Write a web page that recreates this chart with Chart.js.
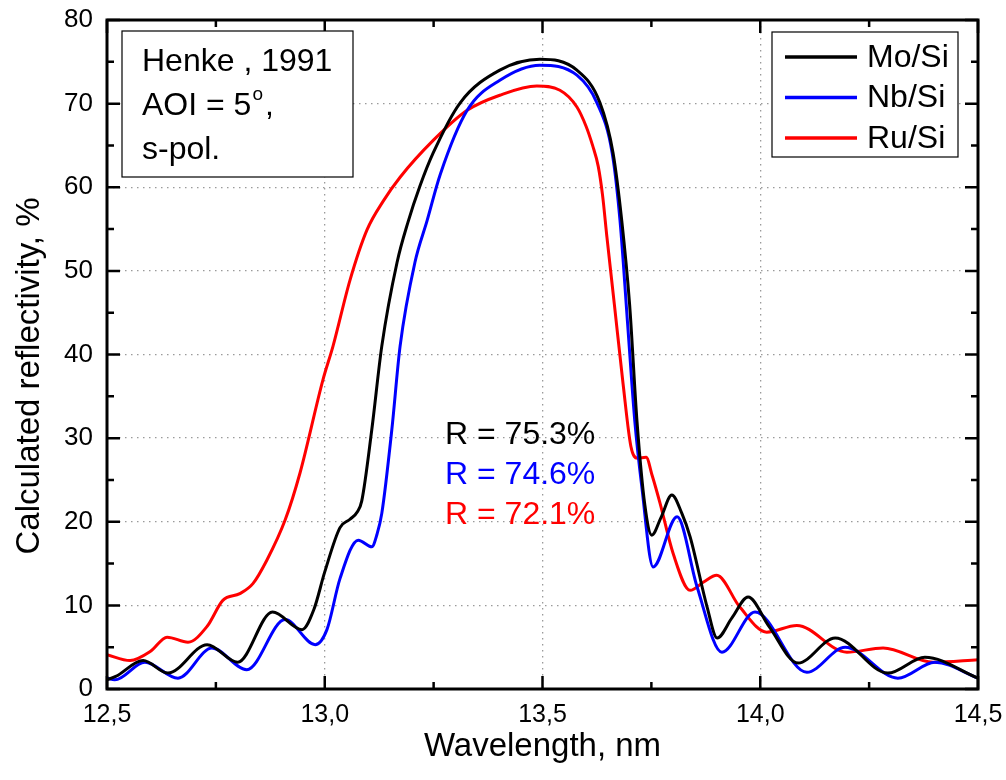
<!DOCTYPE html>
<html>
<head>
<meta charset="utf-8">
<script src="https://cdn.jsdelivr.net/npm/chart.js@4.4.0/dist/chart.umd.min.js"></script>
<style>
  body { margin: 0; background: #fff; }
  #c { display: block; }
</style>
</head>
<body>
<canvas id="c" width="1006" height="780"></canvas>
<script>
// Mo/Si, Nb/Si, Ru/Si reflectivity curves (wavelength nm, reflectivity %)
const moX = [12.5, 12.52, 12.583, 12.64, 12.73, 12.80, 12.88, 12.948, 12.975, 13.0, 13.035, 13.058, 13.075, 13.085, 13.108, 13.131, 13.166, 13.191, 13.219, 13.249, 13.311, 13.402, 13.494, 13.579, 13.632, 13.662, 13.682, 13.70, 13.717, 13.735, 13.751, 13.772, 13.797, 13.82, 13.839, 13.878, 13.901, 13.935, 13.972, 14.02, 14.087, 14.172, 14.293, 14.378, 14.5];
const moY = [1.1, 1.5, 3.4, 1.9, 5.3, 3.2, 9.2, 7.1, 9.5, 14.0, 19.3, 20.3, 21.2, 22.5, 31, 41, 51, 55.8, 60.2, 64.1, 70.1, 74.0, 75.3, 74.0, 70.1, 64.1, 56, 46, 32, 22, 18.4, 20.5, 23.2, 21, 18.2, 9.8, 6.1, 8.5, 11.0, 7.5, 3.1, 6.1, 1.9, 3.8, 1.3];

const nbX = [12.5, 12.518, 12.587, 12.663, 12.741, 12.821, 12.909, 12.978, 13.005, 13.035, 13.077, 13.108, 13.12, 13.131, 13.154, 13.173, 13.207, 13.235, 13.265, 13.327, 13.402, 13.494, 13.579, 13.625, 13.66, 13.678, 13.695, 13.712, 13.728, 13.754, 13.809, 13.855, 13.912, 13.988, 14.107, 14.195, 14.316, 14.401, 14.5];
const nbY = [1.3, 1.1, 3.2, 1.3, 4.9, 2.3, 8.3, 5.3, 7.1, 13.2, 17.8, 17.0, 18.5, 21, 31, 41, 51, 56, 61.5, 69.2, 72.8, 74.6, 73.4, 70.1, 64.1, 56, 44, 32, 24.2, 14.6, 20.6, 12.2, 4.4, 9.2, 2.0, 5.0, 1.3, 3.2, 1.3];

const ruX = [12.5, 12.553, 12.60, 12.638, 12.686, 12.73, 12.766, 12.805, 12.835, 12.867, 12.909, 12.943, 12.996, 13.019, 13.058, 13.097, 13.135, 13.173, 13.249, 13.327, 13.402, 13.487, 13.540, 13.579, 13.60, 13.615, 13.628, 13.638, 13.648, 13.665, 13.685, 13.703, 13.718, 13.738, 13.752, 13.77, 13.80, 13.839, 13.87, 13.90, 13.953, 14.015, 14.084, 14.199, 14.282, 14.397, 14.5];
const ruY = [4.1, 3.4, 4.5, 6.2, 5.6, 7.5, 10.6, 11.4, 12.6, 15.4, 20.2, 25.8, 37, 41, 48.9, 54.9, 58.4, 61.2, 65.6, 69.2, 71.0, 72.1, 71.6, 69.6, 67.3, 65, 62.5, 59, 54, 46, 36.5, 29, 27.6, 27.7, 25.5, 22.2, 16.2, 11.8, 12.8, 13.6, 9.8, 6.8, 7.6, 4.4, 4.9, 3.2, 3.5];

const seriesNames = ['Mo/Si', 'Nb/Si', 'Ru/Si'];
const seriesColors = ['#000000', '#0000ff', '#ff0000'];
const peakLabels = ['R = 75.3%', 'R = 74.6%', 'R = 72.1%'];
const infoLines = ['Henke , 1991', 'AOI = 5', 's-pol.'];

const xTicks = [12.5, 13.0, 13.5, 14.0, 14.5];
const xMinor = [12.75, 13.25, 13.75, 14.25];
const yTicks = [0, 10, 20, 30, 40, 50, 60, 70, 80];
const yMinor = [5, 15, 25, 35, 45, 55, 65, 75];

const FONT = '"Liberation Sans", Arial, sans-serif';

function pts(xs, ys) {
    return xs.map((x, i) => ({ x: x, y: ys[i] }));
}

// frame, inward ticks, legend box, y title and text notes
const decor = {
    id: 'decor',
    afterDraw(chart) {
        const ctx = chart.ctx;
        const a = chart.chartArea;
        const xs = chart.scales.x, ys = chart.scales.y;
        ctx.save();
        ctx.strokeStyle = '#000';
        ctx.lineWidth = 3;
        ctx.strokeRect(a.left, a.top, a.right - a.left, a.bottom - a.top);

        ctx.lineWidth = 2.5;
        ctx.beginPath();
        xTicks.concat(xMinor).forEach(v => {
            const len = xTicks.includes(v) ? 13 : 7;
            const px = xs.getPixelForValue(v);
            ctx.moveTo(px, a.bottom); ctx.lineTo(px, a.bottom - len);
            ctx.moveTo(px, a.top); ctx.lineTo(px, a.top + len);
        });
        yTicks.concat(yMinor).forEach(v => {
            const len = yTicks.includes(v) ? 13 : 7;
            const py = ys.getPixelForValue(v);
            ctx.moveTo(a.left, py); ctx.lineTo(a.left + len, py);
            ctx.moveTo(a.right, py); ctx.lineTo(a.right - len, py);
        });
        ctx.stroke();

        // y axis title
        ctx.save();
        ctx.translate(30, 376);
        ctx.rotate(-Math.PI / 2);
        ctx.fillStyle = '#000';
        ctx.font = '33px ' + FONT;
        ctx.textAlign = 'center';
        ctx.textBaseline = 'middle';
        ctx.fillText('Calculated reflectivity, %', 0, 0);
        ctx.restore();

        // info box
        ctx.lineWidth = 1.2;
        ctx.fillStyle = '#fff';
        ctx.fillRect(a.left + 15, a.top + 11, 231, 146);
        ctx.strokeRect(a.left + 15, a.top + 11, 231, 146);
        ctx.fillStyle = '#000';
        ctx.font = '32px ' + FONT;
        ctx.textBaseline = 'middle';
        ctx.textAlign = 'left';
        infoLines.forEach((t, i) => {
            const ty = a.top + 42 + i * 44;
            ctx.fillText(t, a.left + 35, ty);
            if (i === 1) {
                const w = ctx.measureText(t).width;
                ctx.font = '19px ' + FONT;
                ctx.fillText('o', a.left + 35 + w + 1, ty - 11);
                const w2 = ctx.measureText('o').width;
                ctx.font = '32px ' + FONT;
                ctx.fillText(',', a.left + 35 + w + w2 + 3, ty);
            }
        });

        // legend
        const lx = a.right - 206, ly = a.top + 12;
        ctx.strokeStyle = '#000';
        ctx.lineWidth = 1.2;
        ctx.fillStyle = '#fff';
        ctx.fillRect(lx, ly, 186, 125);
        ctx.strokeRect(lx, ly, 186, 125);
        ctx.textAlign = 'left';
        seriesNames.forEach((n, i) => {
            const yy = ly + 25 + i * 40.5;
            ctx.strokeStyle = seriesColors[i];
            ctx.lineWidth = 3.5;
            ctx.beginPath();
            ctx.moveTo(lx + 13, yy); ctx.lineTo(lx + 85, yy);
            ctx.stroke();
            ctx.fillStyle = '#000';
            ctx.font = '32px ' + FONT;
            ctx.fillText(n, lx + 95, yy + 1);
        });

        // peak values
        ctx.textAlign = 'left';
        ctx.font = '32px ' + FONT;
        peakLabels.forEach((t, i) => {
            ctx.fillStyle = seriesColors[i];
            ctx.fillText(t, a.left + 338, a.top + 415 + i * 40);
        });
        ctx.restore();
    }
};

const datasets = [pts(moX, moY), pts(nbX, nbY), pts(ruX, ruY)].map((d, i) => ({
    label: seriesNames[i],
    data: d,
    borderColor: seriesColors[i],
    backgroundColor: seriesColors[i],
    borderWidth: 3,
    pointRadius: 0,
    cubicInterpolationMode: 'monotone',
    fill: false
}));

new Chart(document.getElementById('c').getContext('2d'), {
    type: 'line',
    data: { datasets: datasets },
    options: {
        responsive: false,
        animation: false,
        layout: { padding: { left: 0, right: 28, top: 20, bottom: 0 } },
        plugins: {
            legend: { display: false },
            tooltip: { enabled: false }
        },
        scales: {
            x: {
                type: 'linear',
                min: 12.5,
                max: 14.5,
                afterFit: s => { s.height = 91; s.paddingLeft = 0; s.paddingRight = 0; },
                afterBuildTicks: s => { s.ticks = xTicks.map(v => ({ value: v })); },
                ticks: {
                    color: '#000',
                    padding: 11,
                    font: { size: 25, family: FONT },
                    maxRotation: 0,
                    callback: v => v.toFixed(1).replace('.', ',')
                },
                grid: { color: '#9a9a9a', lineWidth: 1.3, drawTicks: false },
                border: { display: false, dash: [1.5, 4.5] },
                title: {
                    display: true,
                    text: 'Wavelength, nm',
                    color: '#000',
                    font: { size: 33, family: FONT },
                    padding: { top: 4, bottom: 13 }
                }
            },
            y: {
                min: 0,
                max: 80,
                afterFit: s => { s.width = 107; s.paddingTop = 0; s.paddingBottom = 0; },
                afterBuildTicks: s => { s.ticks = yTicks.map(v => ({ value: v })); },
                ticks: {
                    color: '#000',
                    padding: 14,
                    font: { size: 26, family: FONT }
                },
                grid: { color: '#9a9a9a', lineWidth: 1.3, drawTicks: false },
                border: { display: false, dash: [1.5, 4.5] },
                title: { display: false }
            }
        }
    },
    plugins: [decor]
});
</script>
</body>
</html>
